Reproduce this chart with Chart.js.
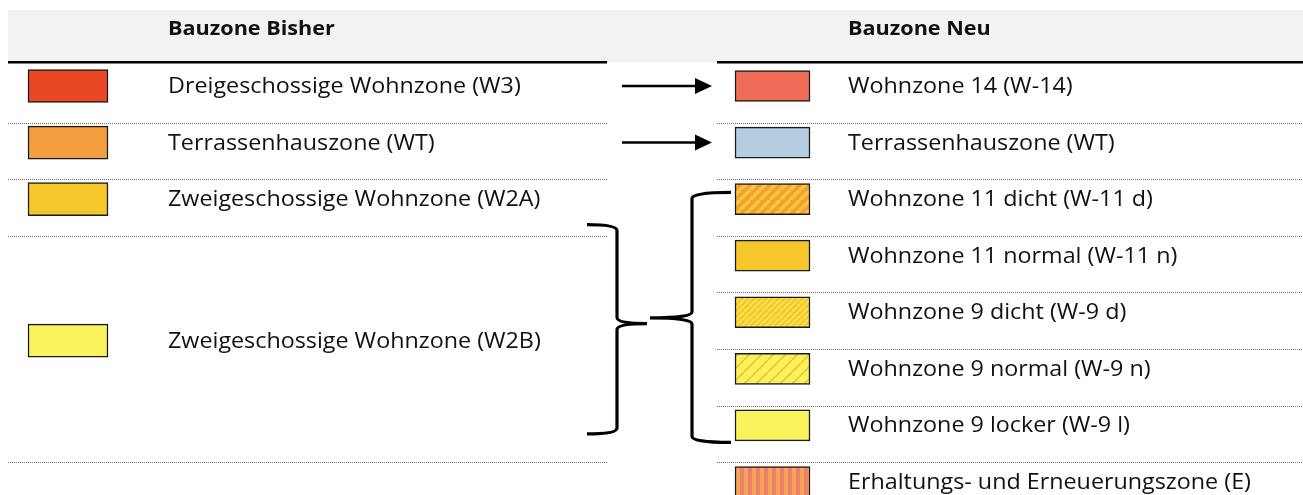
<!DOCTYPE html>
<html>
<head>
<meta charset="utf-8">
<script src="https://cdn.jsdelivr.net/npm/chart.js@4.4.1/dist/chart.umd.min.js"></script>
<style>
  html, body { margin: 0; padding: 0; background: #fff; }
  #wrap { width: 1303px; height: 495px; }
</style>
</head>
<body>
<div id="wrap"><canvas id="myChart" width="1303" height="495"></canvas></div>
<script>
// Column headers
var headers = ['Bauzone Bisher', 'Bauzone Neu'];

// Old zones (left) and the table row each one sits in
var oldZones = [
    'Dreigeschossige Wohnzone (W3)',
    'Terrassenhauszone (WT)',
    'Zweigeschossige Wohnzone (W2A)',
    'Zweigeschossige Wohnzone (W2B)'
];
var oldRows = [1, 2, 3, 5.5];

// New zones (right)
var newZones = [
    'Wohnzone 14 (W-14)',
    'Terrassenhauszone (WT)',
    'Wohnzone 11 dicht (W-11 d)',
    'Wohnzone 11 normal (W-11 n)',
    'Wohnzone 9 dicht (W-9 d)',
    'Wohnzone 9 normal (W-9 n)',
    'Wohnzone 9 locker (W-9 l)',
    'Erhaltungs- und Erneuerungszone (E)'
];
var newRows = [1, 2, 3, 4, 5, 6, 7, 8];

// Direct transitions old row -> new row (arrows)
var arrowRows = [1, 2];

// Row separators (dotted) below these rows
var oldSeparators = [1, 2, 3, 7];
var newSeparators = [1, 2, 3, 4, 5, 6, 7];

// ---- layout (x in canvas px units, y in row units) ----
var L = {
    bandX: [8, 1303], bandTop: -0.34, headLine: 0.58,
    leftLine: [8, 607], rightLine: [717, 1303],
    leftSwatch: [28, 108], rightSwatch: [735, 810],
    leftText: 168, rightText: 848, sepOffset: 0.65,
    arrow: [622, 712],
    braceL: { x0: 587, x1: 617, tip: 647, top: 3.45, bottom: 7.15, mid: 5.2 },
    braceR: { x0: 731, x1: 692, tip: 650, top: 2.88, bottom: 7.3, mid: 5.1 }
};

function makePattern(size, draw) {
    var c = document.createElement('canvas');
    c.width = size[0]; c.height = size[1];
    var g = c.getContext('2d');
    draw(g, size[0], size[1]);
    return document.getElementById('myChart').getContext('2d').createPattern(c, 'repeat');
}
function diagonal(base, stripe, p, w) {
    return makePattern([p, p], function (g) {
        g.fillStyle = base; g.fillRect(0, 0, p, p);
        g.strokeStyle = stripe; g.lineWidth = w;
        for (var k = -1; k <= 1; k++) {
            g.beginPath(); g.moveTo(k * p, p); g.lineTo(k * p + p, 0); g.stroke();
        }
    });
}
var vertStripes = makePattern([8, 1], function (g) {
    g.fillStyle = '#F4A45C'; g.fillRect(0, 0, 4, 1);
    g.fillStyle = '#EF8068'; g.fillRect(4, 0, 4, 1);
});

var oldFills = ['#EA4724', '#F29E3F', '#F5C72A', '#F9F45B'];
var newFills = [
    '#EF6C56', '#B5CDE1',
    diagonal('#F29E3F', '#F6C92C', 10, 3.6),
    '#F5C72A',
    diagonal('#F5C72A', '#FAE352', 6, 2),
    diagonal('#F9F25C', '#F0C338', 12, 1.8),
    '#F9F45B',
    vertStripes
];

// draw text stretched a little to the width of the original font
function stretchedText(c, s, px, py, sx) {
    c.save();
    c.translate(px, py);
    c.scale(sx, 1);
    c.fillText(s, 0, 0);
    c.restore();
}

var tablePlugin = {
    id: 'tablePlugin',
    beforeDatasetsDraw: function (chart) {
        var c = chart.ctx, x = chart.scales.x, y = chart.scales.y;
        c.save();
        c.fillStyle = '#F2F2F2';
        var t = y.getPixelForValue(L.bandTop), b = y.getPixelForValue(L.headLine);
        c.fillRect(x.getPixelForValue(L.bandX[0]), t, x.getPixelForValue(L.bandX[1]) - x.getPixelForValue(L.bandX[0]), b - t);
        // header rule
        c.strokeStyle = '#000'; c.lineWidth = 2.5;
        [L.leftLine, L.rightLine].forEach(function (r) {
            c.beginPath();
            c.moveTo(x.getPixelForValue(r[0]), b); c.lineTo(x.getPixelForValue(r[1]), b); c.stroke();
        });
        // dotted separators
        c.strokeStyle = '#6e6e6e'; c.lineWidth = 1; c.setLineDash([1, 1]);
        function sep(rows, r) {
            rows.forEach(function (k) {
                var py = Math.round(y.getPixelForValue(k + L.sepOffset)) + 0.5;
                c.beginPath(); c.moveTo(x.getPixelForValue(r[0]), py); c.lineTo(x.getPixelForValue(r[1]), py); c.stroke();
            });
        }
        sep(oldSeparators, L.leftLine);
        sep(newSeparators, L.rightLine);
        c.restore();
    },
    afterDatasetsDraw: function (chart) {
        var c = chart.ctx, x = chart.scales.x, y = chart.scales.y;
        c.save();
        c.fillStyle = '#111'; c.textBaseline = 'middle';
        c.font = 'bold 20px "Open Sans"';
        stretchedText(c, headers[0], x.getPixelForValue(L.leftText), y.getPixelForValue(0), 1.08);
        stretchedText(c, headers[1], x.getPixelForValue(L.rightText), y.getPixelForValue(0), 1.08);
        c.font = '21px "Open Sans"';
        oldZones.forEach(function (s, i) {
            stretchedText(c, s, x.getPixelForValue(L.leftText), y.getPixelForValue(oldRows[i]) + 1, 1.11);
        });
        newZones.forEach(function (s, i) {
            stretchedText(c, s, x.getPixelForValue(L.rightText), y.getPixelForValue(newRows[i]) + 1, 1.11);
        });
        // arrows
        c.strokeStyle = '#000'; c.fillStyle = '#000'; c.lineWidth = 2.5;
        arrowRows.forEach(function (r) {
            var py = y.getPixelForValue(r), x0 = x.getPixelForValue(L.arrow[0]), x1 = x.getPixelForValue(L.arrow[1]);
            c.beginPath(); c.moveTo(x0, py); c.lineTo(x1 - 14, py); c.stroke();
            c.beginPath(); c.moveTo(x1, py); c.lineTo(x1 - 17, py - 8); c.lineTo(x1 - 17, py + 8); c.closePath(); c.fill();
        });
        // braces
        c.lineWidth = 3.2; c.lineCap = 'butt';
        function brace(o) {
            var x0 = x.getPixelForValue(o.x0), x1 = x.getPixelForValue(o.x1), tip = x.getPixelForValue(o.tip);
            var t = y.getPixelForValue(o.top), b = y.getPixelForValue(o.bottom), m = y.getPixelForValue(o.mid);
            var d = 6;
            c.beginPath();
            c.moveTo(x0, t);
            c.quadraticCurveTo(x1, t, x1, t + d);
            c.lineTo(x1, m - d);
            c.quadraticCurveTo(x1, m, tip, m);
            c.quadraticCurveTo(x1, m, x1, m + d);
            c.lineTo(x1, b - d);
            c.quadraticCurveTo(x1, b, x0, b);
            c.stroke();
        }
        brace(L.braceL);
        brace(L.braceR);
        c.restore();
    }
};

var ctx = document.getElementById('myChart').getContext('2d');
var myChart = new Chart(ctx, {
    type: 'bar',
    data: {
        datasets: [{
            label: 'Bisher',
            data: oldRows.map(function (r) { return { x: L.leftSwatch, y: r }; }),
            backgroundColor: oldFills,
            borderColor: '#1a1a1a',
            borderWidth: 1.5,
            borderSkipped: false,
            barThickness: 33
        }, {
            label: 'Neu',
            data: newRows.map(function (r) { return { x: L.rightSwatch, y: r }; }),
            backgroundColor: newFills,
            borderColor: '#1a1a1a',
            borderWidth: 1.5,
            borderSkipped: false,
            barThickness: 31
        }]
    },
    options: {
        indexAxis: 'y',
        responsive: false,
        animation: false,
        grouped: false,
        layout: { padding: 0 },
        scales: {
            x: { type: 'linear', min: 0, max: 1303, display: false },
            y: { type: 'linear', min: -0.52, max: 8.23, reverse: true, offset: false, display: false }
        },
        plugins: { legend: { display: false }, tooltip: { enabled: false } }
    },
    plugins: [tablePlugin]
});
</script>
</body>
</html>
